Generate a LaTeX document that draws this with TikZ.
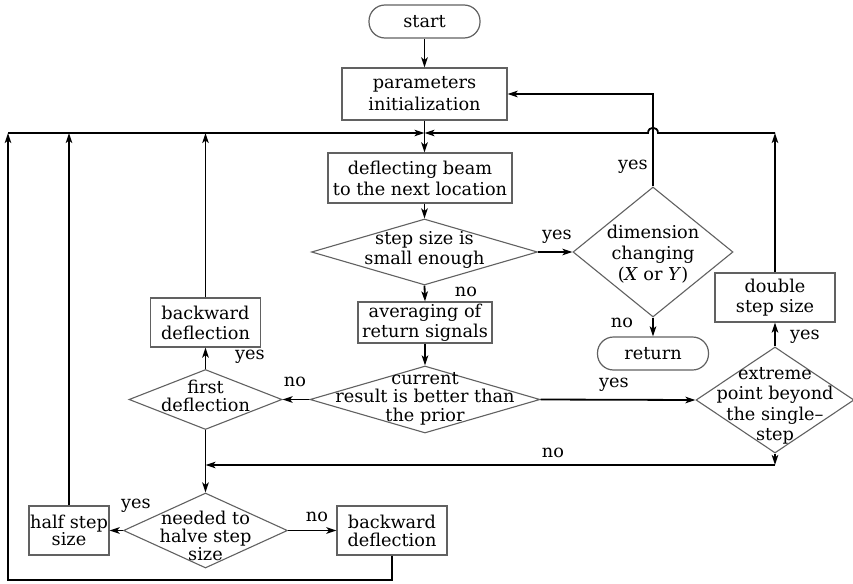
\documentclass[tikz,border=0pt]{standalone}
\usepackage{fontspec}
\setmainfont{DejaVu Serif}
\usetikzlibrary{arrows.meta,shapes.geometric}
\begin{document}
\begin{tikzpicture}[x=1pt,y=-1pt,
  ls/.style={font=\fontsize{17.7}{#1}\selectfont},
  ls/.default=21,
  box/.style={draw=black!62,line width=1.2pt,rectangle,inner sep=0pt,align=center,ls},
  term/.style={draw=black!62,line width=1.2pt,rectangle,rounded corners=16pt,inner sep=0pt,align=center,ls},
  dia/.style={draw=black!62,line width=1.1pt,diamond,inner sep=0pt},
  txt/.style={inner sep=0pt,align=center,ls},
  lab/.style={inner sep=0pt,ls},
  arr/.style={line width=1.8pt,-{Stealth[length=10pt,width=6.5pt,inset=2.5pt]}},
  ln/.style={line width=1.8pt}]
\useasboundingbox (0,0) rectangle (853,583);
\fill[white] (0,0) rectangle (853,583);
% nodes
\node[term,minimum width=111,minimum height=33] (start) at (424.5,21.5) {start};
\node[box,ls=22,minimum width=165,minimum height=52] (params) at (424.5,94) {parameters\\initialization};
\node[box,minimum width=184,minimum height=50] (deflect) at (420,178) {deflecting beam\\to the next location};
\node[dia,minimum width=226,minimum height=66] (step) at (424.5,252) {};
\node[txt,ls=20] (steptxt) at (424.5,250) {step size is\\small enough};
\node[box,ls=20,minimum width=134,minimum height=41] (avg) at (425,322.5) {averaging of\\return signals};
\node[dia,minimum width=230,minimum height=67] (cur) at (425,399.5) {};
\node[txt,ls=18.5] (curtxt) at (425,398.5) {current\\result is better than\\the prior};
\node[dia,minimum width=153,minimum height=60] (first) at (205.5,399.5) {};
\node[txt,ls=18] (firsttxt) at (205.5,396) {first\\deflection};
\node[box,ls=20,minimum width=110,minimum height=49] (bwd1) at (205.5,322.5) {backward\\deflection};
\node[dia,minimum width=164,minimum height=75] (need) at (205.5,530.5) {};
\node[txt,ls=18] (needtxt) at (205.5,536) {needed to\\halve step\\size};
\node[box,ls=17,minimum width=80,minimum height=49] (half) at (69,530.5) {half step\\size};
\node[box,ls=18,minimum width=110,minimum height=49] (bwd2) at (392,530.5) {backward\\deflection};
\node[dia,minimum width=160,minimum height=130] (dim) at (653,252) {};
\node[txt,ls=21] (dimtxt) at (653,254) {dimension\\changing\\(\textit{X} or \textit{Y})};
\node[term,minimum width=111,minimum height=33] (ret) at (653,353.5) {return};
\node[box,ls=20,minimum width=120,minimum height=49] (dbl) at (775,297.5) {double\\step size};
\node[dia,minimum width=158,minimum height=106] (ext) at (775,400) {};
\node[txt,ls=20.5] (exttxt) at (775,406) {extreme\\point beyond\\the single--\\step};
% junction coordinates
\coordinate (m) at (424.5,133);
\coordinate (cL) at (8,133);
\coordinate (cR) at (775,133);
\coordinate (cB) at (392,580);
\coordinate (cBL) at (8,580);
\coordinate (cN) at (775,465);
\coordinate (cNL) at (205.5,465);
% connectors
\draw[arr] (start) -- (params);
\draw[arr] (params.south) -- (params.south |- deflect.north);
\draw[arr] (step.north |- deflect.south) -- (step.north);
\draw[arr] (step.south) -- (avg.north);
\draw[arr] (avg.south) -- (cur.north);
\draw[arr] (step.east) -- (dim.west);
\draw[arr] (dim.south) -- (ret.north);
\draw[arr] (dim.north) -- (dim.north |- params.east) -- (params.east);
\draw[arr] (cur.east) -- (ext.west);
\draw[arr] (ext.north) -- (dbl.south);
\draw[arr] (dbl.north) -- (cR);
\draw[arr] (cR) -- (658,133) .. controls (658,126) and (648,126) .. (648,133) -- (m);
\draw[arr] (cL) -- (m);
\draw[arr] (bwd1.north) -- (bwd1.north |- m);
\draw[arr] (half.north) -- (half.north |- m);
\draw[arr] (bwd2.south) -- (cB) -- (cBL) -- (cL);
\draw[arr] (cur.west) -- (first.east);
\draw[arr] (first.north) -- (bwd1.south);
\draw[arr] (first.south) -- (need.north);
\draw[arr] (ext.south) -- (cN);
\draw[arr] (cN) -- (cNL);
\draw[arr] (need.west) -- (half.east);
\draw[arr] (need.east) -- (bwd2.west);
% labels
\node[lab] (l1) at (557,237) {yes};
\node[lab] (l2) at (466,292) {no};
\node[lab] (l3) at (633,167) {yes};
\node[lab] (l4) at (622,323) {no};
\node[lab] (l5) at (295,382) {no};
\node[lab] (l6) at (250,357) {yes};
\node[lab] (l7) at (614,385) {yes};
\node[lab] (l8) at (805,337) {yes};
\node[lab] (l9) at (553,453) {no};
\node[lab] (l10) at (136,506) {yes};
\node[lab] (l11) at (317,517) {no};
\end{tikzpicture}
\end{document}
